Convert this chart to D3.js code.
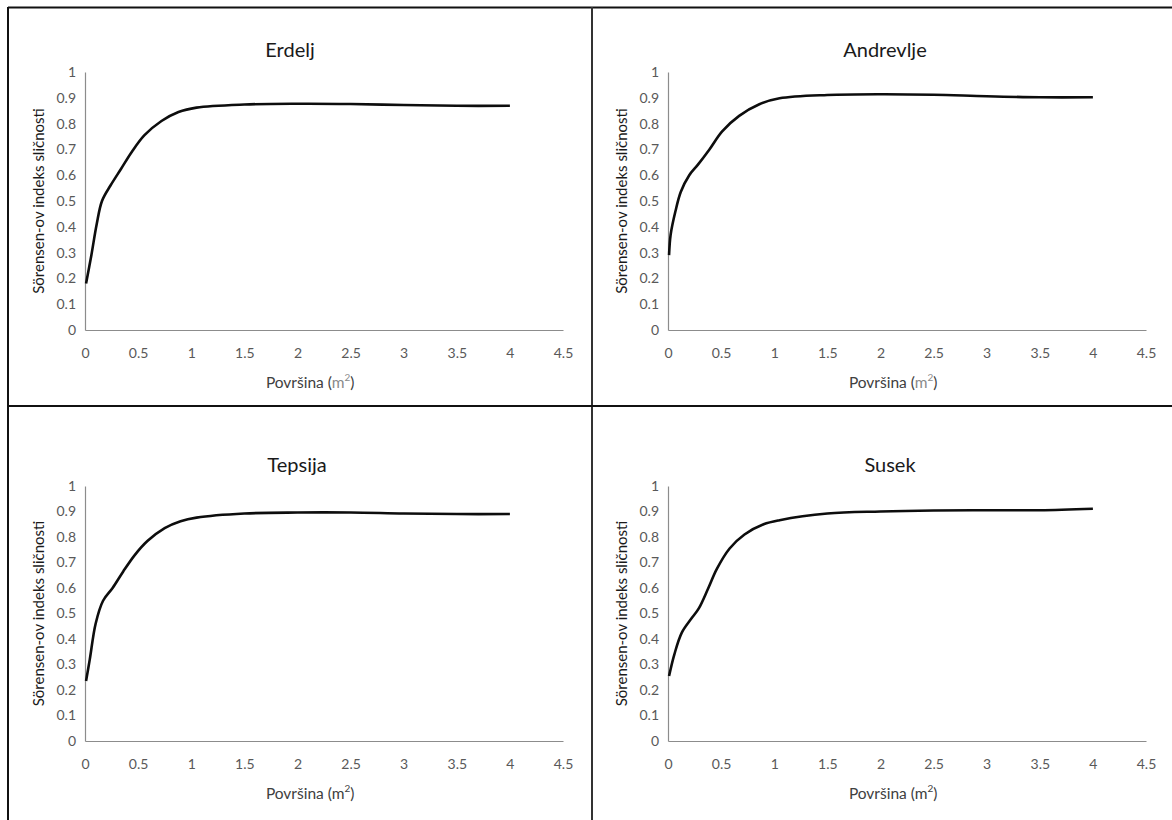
<!DOCTYPE html>
<html>
<head>
<meta charset="utf-8">
<script src="https://cdn.jsdelivr.net/npm/d3@7"></script>
<style>
  html, body { margin: 0; padding: 0; background: #fff; }
  svg { display: block; }
</style>
</head>
<body>
<svg id="chart" width="1172" height="820"></svg>
<script>
// ---- data ----
const panelTitles = ["Erdelj", "Andrevlje", "Tepsija", "Susek"];
const xTicks = [0, 0.5, 1, 1.5, 2, 2.5, 3, 3.5, 4, 4.5];
const yTicks = [0, 0.1, 0.2, 0.3, 0.4, 0.5, 0.6, 0.7, 0.8, 0.9, 1];
const yAxisLabel = "Sörensen-ov indeks sličnosti";
const xAxisLabel = "Površina";

const erdeljX = [0.01, 0.06, 0.11, 0.16, 0.24, 0.34, 0.44, 0.56, 0.72, 0.88, 1.05, 1.5, 2.0, 2.5, 3.0, 3.5, 4.0];
const erdeljY = [0.18, 0.29, 0.41, 0.50, 0.56, 0.625, 0.69, 0.755, 0.81, 0.845, 0.862, 0.874, 0.877, 0.876, 0.872, 0.869, 0.869];

const andrevljeX = [0.01, 0.025, 0.07, 0.12, 0.2, 0.28, 0.39, 0.51, 0.67, 0.86, 1.05, 1.5, 2.0, 2.5, 3.0, 3.5, 4.0];
const andrevljeY = [0.29, 0.37, 0.46, 0.535, 0.60, 0.64, 0.70, 0.77, 0.83, 0.875, 0.898, 0.911, 0.914, 0.912, 0.906, 0.902, 0.902];

const tepsijaX = [0.01, 0.045, 0.10, 0.17, 0.26, 0.36, 0.47, 0.59, 0.75, 0.9, 1.05, 1.5, 2.0, 2.5, 3.0, 3.5, 4.0];
const tepsijaY = [0.235, 0.32, 0.46, 0.55, 0.60, 0.665, 0.73, 0.785, 0.835, 0.862, 0.876, 0.892, 0.896, 0.896, 0.892, 0.89, 0.89];

const susekX = [0.01, 0.06, 0.13, 0.22, 0.29, 0.38, 0.46, 0.58, 0.72, 0.9, 1.05, 1.5, 2.0, 2.5, 3.0, 3.5, 4.0];
const susekY = [0.255, 0.34, 0.425, 0.48, 0.52, 0.60, 0.675, 0.755, 0.81, 0.85, 0.866, 0.892, 0.90, 0.904, 0.905, 0.905, 0.911];

const seriesX = [erdeljX, andrevljeX, tepsijaX, susekX];
const seriesY = [erdeljY, andrevljeY, tepsijaY, susekY];

// ---- layout ----
const svg = d3.select("#chart");
const font = "Lato, 'Open Sans', sans-serif";
const tickColor = "#595959";

// frame lines
svg.append("line").attr("x1", 8).attr("x2", 1172).attr("y1", 7.5).attr("y2", 7.5)
  .attr("stroke", "#111").attr("stroke-width", 2);
svg.append("line").attr("x1", 8).attr("x2", 8).attr("y1", 7).attr("y2", 820)
  .attr("stroke", "#111").attr("stroke-width", 2);
svg.append("line").attr("x1", 592).attr("x2", 592).attr("y1", 7).attr("y2", 820)
  .attr("stroke", "#333").attr("stroke-width", 2);
svg.append("line").attr("x1", 8).attr("x2", 1172).attr("y1", 406).attr("y2", 406)
  .attr("stroke", "#111").attr("stroke-width", 2);

const panels = [
  { ox: 85,  top: 72,  bottom: 330, tx: 290, ty: 52,  gray: true },
  { ox: 668, top: 72,  bottom: 330, tx: 885, ty: 52,  gray: true },
  { ox: 85,  top: 486, bottom: 741, tx: 297, ty: 467, gray: false },
  { ox: 668, top: 486, bottom: 741, tx: 890, ty: 467, gray: false }
];

panels.forEach((p, i) => {
  const xScale = d3.scaleLinear().domain([0, 4.5]).range([p.ox, p.ox + 478]);
  const yScale = d3.scaleLinear().domain([0, 1]).range([p.bottom, p.top]);
  const g = svg.append("g");

  // title
  g.append("text").attr("x", p.tx).attr("y", p.ty)
    .attr("text-anchor", "middle").attr("dominant-baseline", "middle")
    .attr("font-family", font).attr("font-size", 20).attr("font-weight", 400).attr("fill", "#1a1a1a")
    .text(panelTitles[i]);

  // axes
  const xAxis = d3.axisBottom(xScale).tickValues(xTicks).tickSize(0).tickPadding(18)
    .tickFormat(d => String(d));
  const yAxis = d3.axisLeft(yScale).tickValues(yTicks).tickSize(0).tickPadding(9)
    .tickFormat(d => String(d));

  const gx = g.append("g").attr("transform", `translate(0,${p.bottom})`).call(xAxis);
  const gy = g.append("g").attr("transform", `translate(${p.ox},0)`).call(yAxis);
  [gx, gy].forEach(a => {
    a.select(".domain").attr("stroke", "#8c8c8c").attr("stroke-width", 1.2);
    a.selectAll("text").attr("font-family", font).attr("font-size", 14).attr("fill", tickColor);
  });

  // y axis label
  g.append("text")
    .attr("transform", `translate(${p.ox - 45},${(p.top + p.bottom) / 2}) rotate(-90)`)
    .attr("text-anchor", "middle").attr("dominant-baseline", "middle")
    .attr("font-family", font).attr("font-size", 15).attr("fill", "#1a1a1a")
    .text(yAxisLabel);

  // x axis label
  const xl = g.append("text")
    .attr("x", xScale(2.12)).attr("y", p.bottom + 54)
    .attr("text-anchor", "middle").attr("dominant-baseline", "middle")
    .attr("font-family", font).attr("font-size", 15.5).attr("fill", "#404040");
  xl.append("tspan").text(xAxisLabel + " (");
  xl.append("tspan").attr("fill", p.gray ? "#8a8a8a" : "#404040").text("m");
  xl.append("tspan").attr("fill", p.gray ? "#8a8a8a" : "#404040")
    .attr("font-size", 10).attr("dy", -6).text("2");
  xl.append("tspan").attr("dy", 6).text(")");

  // curve
  const pts = seriesX[i].map((x, k) => [x, seriesY[i][k]]);
  const line = d3.line().x(d => xScale(d[0])).y(d => yScale(d[1])).curve(d3.curveCatmullRom.alpha(0.5));
  g.append("path").datum(pts).attr("d", line)
    .attr("fill", "none").attr("stroke", "#0d0d0d").attr("stroke-width", 2.6)
    .attr("stroke-linejoin", "round").attr("stroke-linecap", "butt");
});
</script>
</body>
</html>
